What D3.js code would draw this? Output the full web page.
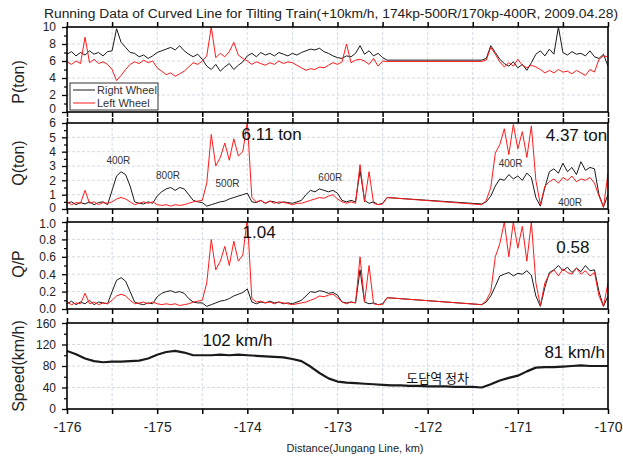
<!DOCTYPE html>
<html>
<head>
<meta charset="utf-8">
<script src="https://cdn.jsdelivr.net/npm/d3@7"></script>
<style>
  body { margin: 0; background: #fff; }
  svg { display: block; }
</style>
</head>
<body>
<svg id="chart" width="623" height="456"></svg>
<script>
// distance (km) – recorded samples, gap between -172.45 and -171.40 is joined by a straight line
const kmA = d3.range(-176, -172.449, 0.05).concat(d3.range(-171.4, -169.999, 0.05)).map(v => +v.toFixed(2));
const kmSpeed = d3.range(-176, -169.99, 0.1).map(v => +v.toFixed(1));

// P (ton)
const pRight = [
  6.8, 7.1, 6.6, 7.0, 6.7, 7.2, 6.8, 7.0, 6.6, 7.1,
  7.2, 9.8, 8.2, 7.6, 7.0, 6.9, 6.5, 6.7, 6.3, 6.6,
  7.0, 7.2, 7.4, 7.6, 7.3, 7.8, 7.2, 6.8, 6.5, 6.8,
  6.2, 5.4, 5.0, 5.6, 4.8, 5.3, 5.7, 5.0, 5.5, 5.9,
  6.6, 6.9, 6.5, 7.0, 6.7, 6.9, 6.6, 7.0, 6.8, 6.6,
  6.9, 6.7, 7.0, 7.2, 7.4, 7.3, 7.5, 7.1, 6.9, 6.6,
  6.4, 6.3, 6.6, 6.5, 6.9, 7.8, 6.8, 7.2, 6.6, 6.9,
  6.4, 6.1,
  6.1, 6.3, 7.8, 7.0, 6.2, 5.7, 5.4, 5.9, 5.2, 5.6,
  4.9, 5.8, 6.8, 7.2, 6.6, 7.4, 6.8, 10.0, 7.0, 6.7,
  7.1, 6.8, 6.9, 6.6, 7.2, 6.5, 6.3, 6.8, 5.4
];
const pLeft = [
  5.9, 5.6, 6.0, 5.7, 8.8, 5.8, 6.2, 5.7, 5.9, 5.6,
  5.0, 3.7, 4.3, 5.0, 5.6, 5.9, 5.7, 6.1, 5.8, 6.0,
  5.2, 4.8, 4.4, 4.6, 4.2, 4.5, 4.8, 5.3, 5.8, 5.6,
  6.0, 6.6, 10.0, 6.4, 6.9, 6.5, 7.1, 8.2, 6.7, 6.3,
  6.0, 5.6, 5.9, 5.7, 5.5, 5.8, 5.6, 6.0, 5.7, 5.9,
  5.8, 5.5, 5.2, 4.9, 5.1, 5.0, 5.3, 5.2, 5.5, 5.8,
  5.6, 5.9, 8.0, 5.8, 6.1, 6.2, 6.0, 5.6, 6.3, 5.4,
  6.0, 5.95,
  5.95, 6.1, 7.6, 6.8, 5.9, 5.3, 5.8, 5.4, 6.2, 5.5,
  5.2, 5.5, 5.3, 5.0, 4.6, 4.9, 4.6, 5.0, 4.7, 4.8,
  4.5, 4.9, 4.6, 4.3, 5.0, 4.7, 6.2, 6.6, 6.5
];

// Q (ton)
const qRight = [
  0.4, 0.5, 0.3, 0.45, 0.35, 0.5, 0.3, 0.45, 0.5, 0.3,
  1.3, 2.3, 2.6, 2.4, 1.6, 0.5, 0.4, 0.35, 0.5, 0.4,
  0.9, 1.2, 1.4, 1.5, 1.3, 1.5, 1.4, 1.0, 0.6, 0.5,
  0.45, 0.2, 0.3, 0.4, 0.5, 0.55, 0.7, 0.8, 0.9, 1.0,
  1.1, 0.5, 0.45, 0.6, 0.4, 0.55, 0.5, 0.4, 0.5, 0.45,
  0.4, 0.5, 0.6, 1.0, 1.3, 1.2, 1.4, 1.3, 1.2, 1.3,
  1.1, 0.6, 0.5, 0.6, 0.5, 2.7, 0.6, 0.4, 0.5, 0.3,
  0.4, 0.8,
  0.35, 0.5, 0.9, 1.6, 2.1, 2.0, 2.4, 2.1, 2.3, 2.0,
  2.5, 2.2, 0.8, 0.2, 1.5, 2.6, 2.8, 2.5, 3.2, 2.6,
  2.9, 2.4, 3.3, 2.7, 2.9, 2.8, 1.0, 0.15, 1.0
];
const qLeft = [
  0.5, 0.3, 0.45, 0.4, 1.3, 0.4, 0.5, 0.3, 0.45, 0.4,
  0.5, 0.7, 0.8, 0.7, 0.5, 0.3, 0.4, 0.5, 0.4, 0.5,
  0.3, 0.25, 0.3, 0.2, 0.3, 0.25, 0.3, 0.4, 0.5, 0.55,
  0.6, 1.8, 5.2, 3.0, 3.6, 4.6, 3.4, 4.9, 3.7, 4.0,
  6.1, 0.8, 0.5, 0.6, 0.4, 0.55, 0.4, 0.5, 0.45, 0.4,
  0.3, 0.4, 0.4, 0.5, 0.6, 0.7, 0.8, 0.75, 0.9, 1.0,
  0.7, 0.5, 0.4, 0.5, 0.4, 3.1, 0.5, 2.6, 0.4, 0.3,
  0.35, 0.8,
  0.3, 0.6, 1.5, 3.9, 4.5, 5.6, 3.8, 5.9, 4.2, 5.4,
  3.6, 5.8, 2.0, 0.3, 1.6, 1.9, 2.1, 1.8, 2.2, 2.0,
  2.3, 1.9, 2.1, 2.0, 2.2, 1.8, 0.9, 0.1, 2.5
];

// Q/P
const qpRight = [
  0.06, 0.09, 0.05, 0.08, 0.06, 0.1, 0.05, 0.08, 0.07, 0.06,
  0.2, 0.33, 0.36, 0.32, 0.2, 0.08, 0.06, 0.05, 0.07, 0.06,
  0.14, 0.18, 0.2, 0.21, 0.19, 0.2, 0.18, 0.12, 0.08, 0.07,
  0.07, 0.03, 0.05, 0.07, 0.09, 0.1, 0.12, 0.15, 0.17, 0.19,
  0.23, 0.08, 0.06, 0.08, 0.07, 0.09, 0.07, 0.08, 0.06, 0.07,
  0.06, 0.08, 0.1, 0.15, 0.2, 0.19, 0.21, 0.2, 0.18, 0.19,
  0.16, 0.08, 0.07, 0.08, 0.07, 0.45, 0.08, 0.06, 0.07, 0.05,
  0.06, 0.13,
  0.05, 0.08, 0.15, 0.26, 0.38, 0.4, 0.42, 0.38, 0.41, 0.4,
  0.44, 0.39, 0.15, 0.03, 0.25, 0.42, 0.45, 0.5, 0.44, 0.48,
  0.42, 0.47, 0.43, 0.5, 0.44, 0.45, 0.2, 0.03, 0.15
];
const qpLeft = [
  0.08, 0.05, 0.07, 0.06, 0.18, 0.06, 0.08, 0.05, 0.07, 0.06,
  0.1, 0.15, 0.17, 0.15, 0.1, 0.06, 0.07, 0.08, 0.06, 0.08,
  0.06, 0.05, 0.06, 0.05, 0.06, 0.04, 0.05, 0.06, 0.08, 0.09,
  0.1, 0.3, 0.8, 0.45, 0.55, 0.72, 0.5, 0.78, 0.55, 0.62,
  1.04, 0.12, 0.08, 0.09, 0.07, 0.08, 0.06, 0.08, 0.07, 0.06,
  0.05, 0.06, 0.07, 0.08, 0.1, 0.12, 0.15, 0.14, 0.16, 0.17,
  0.13, 0.08, 0.06, 0.08, 0.07, 0.6, 0.08, 0.5, 0.06, 0.05,
  0.05, 0.13,
  0.05, 0.1, 0.2, 0.6, 0.75, 1.0, 0.6, 1.0, 0.7, 0.95,
  0.55, 1.0, 0.3, 0.04, 0.3, 0.4, 0.45, 0.38, 0.46, 0.42,
  0.4, 0.47, 0.4, 0.44, 0.38, 0.42, 0.15, 0.03, 0.3
];

// speed (km/h)
const speed = [
  108, 102, 94, 89, 87, 88, 88, 89, 90, 94,
  101, 106, 108, 105, 100, 100, 100, 101, 100, 101,
  100, 99, 98, 97, 96, 93, 89, 79, 67, 57,
  51, 49, 48, 47, 46, 45, 44, 44, 43, 43,
  42, 42, 42, 41, 41, 41, 40, 46, 53, 58,
  62, 70, 77, 78, 78, 79, 80, 81, 80, 80,
  80
];

// annotations: [panel, km, value, text, size]
const notes = [
  [1, -175.43, 3.14, "400R", 10],
  [1, -174.88, 2.1, "800R", 10],
  [1, -174.22, 1.54, "500R", 10],
  [1, -173.08, 1.95, "600R", 10],
  [1, -171.08, 2.93, "400R", 10],
  [1, -170.42, 0.22, "400R", 10],
  [1, -173.73, 4.8, "6.11 ton", 17],
  [1, -170.35, 4.75, "4.37 ton", 17],
  [2, -173.87, 0.82, "1.04", 17],
  [2, -170.39, 0.64, "0.58", 17],
  [3, -174.11, 117, "102 km/h", 17],
  [3, -170.37, 95, "81 km/h", 17],
  [3, -171.89, 48, "도담역 정차", 13]
];

const W = 623, H = 456;
const left = 67, right = 608;
const black = "#1a1a1a", red = "#ff1a1a";
const font = "'Liberation Sans', Arial, sans-serif";

// nudge: [bottom label shift, top label shift] in px so stacked labels do not collide
const panels = [
  { top: 27, bottom: 112, domain: [0, 10], ticks: [0, 2, 4, 6, 8, 10], minor: d3.range(1, 10, 2), fmt: d3.format("d"), title: "P(ton)", titleY: 82,
    km: kmA, series: [[pRight, black], [pLeft, red]], nudge: [-3, 0] },
  { top: 123, bottom: 209, domain: [0, 6], ticks: [0, 1, 2, 3, 4, 5, 6], minor: d3.range(0.5, 6, 1), fmt: d3.format("d"), title: "Q(ton)", titleY: 163,
    km: kmA, series: [[qRight, black], [qLeft, red]], nudge: [-1, 0] },
  { top: 222, bottom: 309, domain: [0, 1], ticks: [0, 0.2, 0.4, 0.6, 0.8, 1.0], minor: [0.1, 0.3, 0.5, 0.7, 0.9], fmt: d3.format(".1f"), title: "Q/P", titleY: 264,
    km: kmA, series: [[qpRight, black], [qpLeft, red]], nudge: [0, 2] },
  { top: 323, bottom: 409, domain: [0, 160], ticks: [0, 40, 80, 120, 160], minor: [20, 60, 100, 140], fmt: d3.format("d"), title: "Speed(km/h)", titleY: 366,
    km: kmSpeed, series: [[speed, black]], nudge: [0, 1] }
];

const svg = d3.select("#chart");
svg.append("rect").attr("width", W).attr("height", H).attr("fill", "#fff");

const x = d3.scaleLinear().domain([-176, -170]).range([left, right]);
const halfKm = d3.range(-176, -169.99, 0.5);

panels.forEach((p, pi) => {
  const y = d3.scaleLinear().domain(p.domain).range([p.bottom, p.top]);
  p.y = y;
  const g = svg.append("g");

  // grid
  g.append("g").selectAll("line").data(halfKm.slice(1, -1)).join("line")
    .attr("x1", d => x(d)).attr("x2", d => x(d))
    .attr("y1", p.top).attr("y2", p.bottom)
    .attr("stroke", "#c9d0de").attr("stroke-width", 0.8).attr("stroke-dasharray", "3,2");
  g.append("g").selectAll("line").data(p.ticks.slice(1, -1)).join("line")
    .attr("x1", left).attr("x2", right)
    .attr("y1", d => y(d)).attr("y2", d => y(d))
    .attr("stroke", "#c9d0de").attr("stroke-width", 0.8).attr("stroke-dasharray", "3,2");

  // data
  const clipId = "clip" + pi;
  svg.append("clipPath").attr("id", clipId).append("rect")
    .attr("x", left).attr("y", p.top).attr("width", right - left).attr("height", p.bottom - p.top);
  p.series.forEach(([vals, col]) => {
    const line = d3.line().x((d, i) => x(p.km[i])).y(d => y(d));
    g.append("path").datum(vals)
      .attr("clip-path", `url(#${clipId})`)
      .attr("fill", "none").attr("stroke", col)
      .attr("stroke-width", pi === 3 ? 2.2 : 1)
      .attr("stroke-linejoin", "round")
      .attr("d", line);
  });

  // y axis
  const ya = g.append("g").attr("transform", `translate(${left},0)`)
    .call(d3.axisLeft(y).tickValues(p.ticks).tickFormat(p.fmt).tickSize(5).tickPadding(6));
  ya.select(".domain").remove();
  ya.selectAll("line").attr("stroke", "#000").attr("stroke-width", 1.3);
  ya.selectAll("text").attr("font-family", font).attr("font-size", 12).attr("fill", "#222")
    .attr("y", (d, i, n) => i === 0 ? p.nudge[0] : (i === n.length - 1 ? p.nudge[1] : 0));
  const ym = g.append("g").attr("transform", `translate(${left},0)`)
    .call(d3.axisLeft(y).tickValues(p.minor).tickFormat("").tickSize(3));
  ym.select(".domain").remove();
  ym.selectAll("line").attr("stroke", "#000").attr("stroke-width", 1.2);

  // x ticks on top and bottom
  [["axisBottom", p.bottom], ["axisTop", p.top]].forEach(([fn, yy]) => {
    const xa = g.append("g").attr("transform", `translate(0,${yy})`)
      .call(d3[fn](x).tickValues(halfKm).tickFormat("").tickSize(5));
    xa.select(".domain").remove();
    xa.selectAll("line").attr("stroke", "#000").attr("stroke-width", 1.5);
  });

  // frame
  g.append("rect").attr("x", left).attr("y", p.top)
    .attr("width", right - left).attr("height", p.bottom - p.top)
    .attr("fill", "none").attr("stroke", "#000").attr("stroke-width", 1.6);

  // axis title
  svg.append("text")
    .attr("transform", `translate(24,${p.titleY}) rotate(-90)`)
    .attr("text-anchor", "middle")
    .attr("font-family", font).attr("font-size", 16).attr("fill", "#222")
    .text(p.title);
});

// bottom x labels
const last = panels[3];
const xl = svg.append("g").attr("transform", `translate(0,${last.bottom})`)
  .call(d3.axisBottom(x).tickValues(d3.range(-176, -169.9, 1)).tickFormat(d => String(d)).tickSize(0).tickPadding(13));
xl.select(".domain").remove();
xl.selectAll("text").attr("font-family", font).attr("font-size", 14).attr("fill", "#222");

svg.append("text").attr("x", 355).attr("y", 452).attr("text-anchor", "middle")
  .attr("font-family", font).attr("font-size", 11).attr("fill", "#222")
  .text("Distance(Jungang Line, km)");

// title
svg.append("text").attr("x", 44).attr("y", 18)
  .attr("font-family", font).attr("font-size", 12).attr("fill", "#222")
  .attr("textLength", 574).attr("lengthAdjust", "spacingAndGlyphs")
  .text("Running Data of Curved Line for Tilting Train(+10km/h, 174kp-500R/170kp-400R, 2009.04.28)");

// annotations
notes.forEach(([pi, km, v, txt, size]) => {
  const kr = /[가-힣]/.test(txt);
  svg.append("text")
    .attr("x", x(km)).attr("y", panels[pi].y(v))
    .attr("text-anchor", "middle")
    .attr("font-family", kr ? "'Noto Sans CJK KR', sans-serif" : font)
    .attr("font-size", size)
    .attr("fill", size > 12 || kr ? "#111" : "#333")
    .text(txt);
});

// legend
const lg = svg.append("g");
lg.append("rect").attr("x", 70).attr("y", 83).attr("width", 88).attr("height", 27)
  .attr("fill", "#fff").attr("stroke", "#333").attr("stroke-width", 1);
[["Right Wheel", black, 91], ["Left Wheel", red, 104]].forEach(([t, c, yy]) => {
  lg.append("line").attr("x1", 73).attr("x2", 95).attr("y1", yy - 1).attr("y2", yy - 1)
    .attr("stroke", c).attr("stroke-width", 1);
  lg.append("text").attr("x", 97).attr("y", yy + 3)
    .attr("font-family", font).attr("font-size", 11).attr("fill", "#333").text(t);
});
</script>
</body>
</html>
